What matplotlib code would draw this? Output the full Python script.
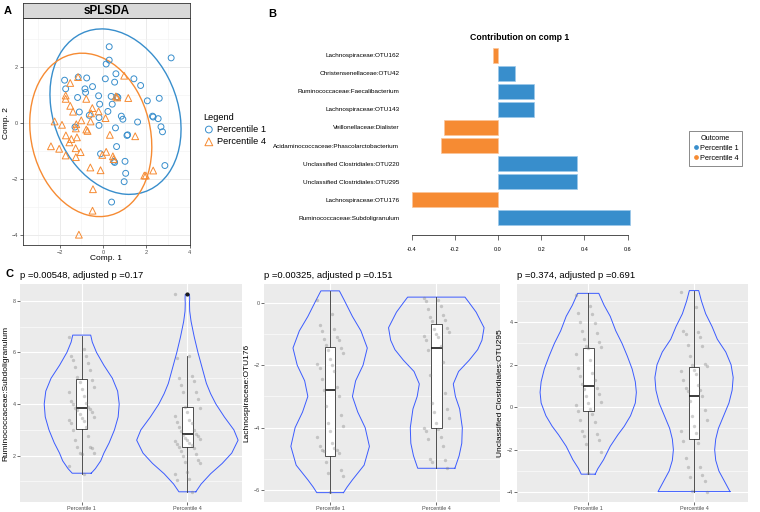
import numpy as np
import matplotlib
matplotlib.use("Agg")
import matplotlib.pyplot as plt
from matplotlib.patches import Ellipse
from matplotlib.lines import Line2D

plt.rcParams['font.family'] = ['Liberation Sans', 'DejaVu Sans']

BLUE = "#388ECC"
ORANGE = "#F68B33"
VIOLIN = "#3b5bff"

# ---- panel A: sPLSDA scores ----
p1_x = [0.29, 3.15, 0.29, 0.15, -1.77, -1.14, -0.75, 0.11, 0.60, 0.54, 1.43, 1.74,
        -1.72, -0.83, -0.48, -0.80, -1.17, -0.20, 0.38, 0.65, 0.69, 2.05, 2.60, -0.15,
        0.43, -1.09, 0.23, -0.63, -0.18, 0.85, 0.92, 2.29, 2.32, 2.55, 1.60, -1.29,
        -0.18, 0.58, 2.68, 2.75, 1.14, 1.11, 0.63, -0.11, 0.51, 1.02, 2.86, 1.05,
        0.98, 0.40, 0.54]
p1_y = [2.74, 2.34, 2.26, 2.12, 1.54, 1.65, 1.62, 1.59, 1.77, 1.47, 1.59, 1.35,
        1.23, 1.23, 1.31, 1.10, 0.92, 0.98, 0.96, 0.95, 0.92, 0.80, 0.89, 0.68,
        0.68, 0.40, 0.42, 0.28, 0.20, 0.25, 0.14, 0.25, 0.22, 0.16, 0.04, -0.14,
        -0.08, -0.17, -0.13, -0.31, -0.42, -0.44, -0.84, -1.10, -1.37, -1.37, -1.52, -1.80,
        -2.10, -2.83, -1.41]
p4_x = [0.98, -1.15, -1.51, -1.72, -1.72, -0.77, 0.60, 0.66, 1.17, -1.51, -1.38, -0.49,
        -0.55, -0.20, -2.23, -1.89, -1.23, -1.00, -0.57, 0.12, -0.77, -0.71, -1.25, -1.71,
        -1.20, -1.46, -1.55, 0.32, 1.49, -2.40, -2.02, -1.26, -1.72, -1.03, -1.25, 0.15,
        -0.03, 0.46, 0.49, -0.58, -0.11, 1.91, 1.98, 2.32, -0.46, -0.48, -1.11]
p4_y = [1.70, 1.65, 1.44, 0.99, 0.87, 0.87, 0.96, 0.92, 0.90, 0.62, 0.41, 0.54,
        0.35, 0.42, 0.06, -0.06, -0.04, 0.10, 0.06, 0.18, -0.23, -0.28, -0.19, -0.44,
        -0.51, -0.57, -0.69, -0.42, -0.47, -0.83, -0.92, -0.90, -1.16, -1.04, -1.22, -1.03,
        -1.14, -1.19, -1.29, -1.59, -1.69, -1.88, -1.88, -1.70, -2.37, -3.14, -4.00]

# ---- panel B: loadings on comp 1 (top to bottom) ----
otus = ["Lachnospiraceae:OTU162", "Christensenellaceae:OTU42",
        "Ruminococcaceae:Faecalibacterium", "Lachnospiraceae:OTU143",
        "Veillonellaceae:Dialister", "Acidaminococcaceae:Phascolarctobacterium",
        "Unclassified Clostridiales:OTU220", "Unclassified Clostridiales:OTU295",
        "Lachnospiraceae:OTU176", "Ruminococcaceae:Subdoligranulum"]
loadings = [-0.025, 0.079, 0.166, 0.166, -0.25, -0.265, 0.367, 0.367, -0.40, 0.61]
groups = ["Percentile 1", "Percentile 4"]

# ---- panel C: violins (outline levels / half widths), boxes and points ----
titles = ["p =0.00548, adjusted p =0.17", "p =0.00325, adjusted p =0.151",
          "p =0.374, adjusted p =0.691"]
ylabels = ["Ruminococcaceae:Subdoligranulum", "Lachnospiraceae:OTU176",
           "Unclassified Clostridiales:OTU295"]

v_lev = [
    [[1.32, 1.5, 1.8, 2.1, 2.5, 3.0, 3.5, 4.0, 4.5, 5.0, 5.5, 6.0, 6.4, 6.67],
     [0.6, 0.9, 1.3, 1.7, 2.1, 2.6, 3.0, 3.5, 4.0, 4.4, 4.8, 5.4, 6.0, 6.6, 7.2, 7.6, 7.9, 8.1, 8.25]],
    [[-6.08, -5.9, -5.67, -5.2, -4.6, -4.0, -3.5, -3.0, -2.5, -2.0, -1.45, -0.9, -0.44, 0.1, 0.38],
     [-5.3, -4.9, -4.5, -4.0, -3.4, -3.0, -2.6, -2.2, -1.84, -1.5, -1.2, -0.8, -0.3, 0.0, 0.18]],
    [[-3.15, -2.9, -2.47, -1.84, -1.3, -0.9, -0.4, 0.2, 0.7, 1.2, 1.8, 2.4, 3.0, 3.6, 4.28, 4.8, 5.36],
     [-3.97, -3.6, -3.0, -2.5, -2.0, -1.5, -1.0, -0.4, 0.2, 0.8, 1.4, 2.0, 2.6, 3.2, 3.8, 4.4, 5.0, 5.49]],
]
v_hw = [
    [[0.09, 0.13, 0.18, 0.21, 0.26, 0.31, 0.345, 0.355, 0.34, 0.29, 0.21, 0.14, 0.10, 0.085],
     [0.08, 0.13, 0.22, 0.33, 0.42, 0.48, 0.44, 0.35, 0.27, 0.22, 0.18, 0.14, 0.10, 0.065, 0.035, 0.022, 0.02, 0.022, 0.02]],
    [[0.126, 0.16, 0.21, 0.32, 0.37, 0.33, 0.26, 0.21, 0.24, 0.31, 0.35, 0.29, 0.21, 0.13, 0.087],
     [0.175, 0.215, 0.24, 0.245, 0.22, 0.18, 0.16, 0.21, 0.31, 0.39, 0.43, 0.45, 0.375, 0.31, 0.27]],
    [[0.066, 0.09, 0.145, 0.208, 0.28, 0.34, 0.40, 0.445, 0.455, 0.445, 0.415, 0.37, 0.32, 0.26, 0.208, 0.15, 0.10],
     [0.34, 0.30, 0.235, 0.205, 0.195, 0.205, 0.23, 0.28, 0.33, 0.36, 0.37, 0.35, 0.30, 0.22, 0.17, 0.11, 0.07, 0.044]],
]
# whisker low, q1, median, q3, whisker high
box_stats = [
    [[1.3, 3.02, 3.83, 4.97, 6.65], [0.6, 2.32, 2.84, 3.9, 5.87]],
    [[-6.08, -4.9, -2.80, -1.43, 0.38], [-5.3, -4.02, -1.46, -0.69, 0.18]],
    [[-3.15, -0.16, 1.0, 2.81, 5.36], [-3.97, -1.5, 0.55, 1.91, 5.49]],
]
outliers = [[[], [8.25]], [[], []], [[], []]]
points = [
    [[6.6, 6.15, 5.85, 5.85, 5.7, 5.6, 5.45, 5.3, 5.05, 4.95, 4.85, 4.65, 4.6, 4.45, 4.3,
      4.1, 4.05, 4.0, 3.9, 3.85, 3.8, 3.75, 3.7, 3.6, 3.5, 3.45, 3.4, 3.35, 3.25, 3.1,
      3.0, 2.75, 2.6, 2.35, 2.35, 2.3, 2.1, 2.1, 2.05, 1.6, 1.3],
     [8.25, 5.85, 5.8, 5.1, 5.0, 4.9, 4.75, 4.45, 4.45, 4.2, 3.9, 3.85, 3.7, 3.55, 3.4,
      3.3, 3.25, 3.1, 3.0, 2.95, 2.85, 2.8, 2.75, 2.7, 2.65, 2.6, 2.55, 2.5, 2.45, 2.4,
      2.35, 2.3, 2.2, 2.05, 2.0, 1.85, 1.75, 1.7, 1.35, 1.3, 1.1, 1.05, 0.6]],
    [[0.1, -0.35, -0.7, -0.85, -0.9, -1.1, -1.15, -1.2, -1.35, -1.45, -1.5, -1.6, -1.8,
      -1.95, -2.0, -2.1, -2.2, -2.45, -2.7, -2.8, -3.0, -3.3, -3.6, -3.85, -3.95, -4.1,
      -4.3, -4.5, -4.6, -4.65, -4.7, -4.7, -4.75, -4.8, -5.1, -5.35, -5.45, -5.55, -6.05],
     [0.15, 0.1, 0.05, -0.1, -0.2, -0.4, -0.45, -0.55, -0.6, -0.8, -0.85, -0.95, -1.0,
      -1.05, -1.1, -1.2, -1.4, -1.5, -1.9, -2.3, -2.9, -3.2, -3.4, -3.5, -3.7, -3.85,
      -4.0, -4.05, -4.1, -4.3, -4.35, -4.6, -5.0, -5.05, -5.1, -5.3]],
    [[5.3, 4.75, 4.45, 4.4, 4.0, 3.95, 3.6, 3.5, 3.2, 3.05, 2.9, 2.85, 2.8, 2.5, 2.2,
      1.85, 1.6, 1.45, 1.3, 1.1, 0.9, 0.85, 0.6, 0.55, 0.25, 0.2, 0.1, -0.1, -0.2, -0.3,
      -0.6, -0.7, -1.1, -1.25, -1.35, -1.55, -1.75, -2.1, -3.1],
     [5.4, 4.7, 3.6, 3.55, 3.45, 3.3, 2.95, 2.9, 2.4, 2.05, 2.0, 1.95, 1.75, 1.7, 1.55,
      1.3, 1.05, 0.9, 0.8, 0.75, 0.55, 0.3, -0.15, -0.4, -0.6, -0.9, -1.1, -1.2, -1.6,
      -1.7, -2.4, -2.8, -2.8, -3.2, -3.3, -3.45, -3.95, -4.0]],
]
c_ticks = [[2, 4, 6, 8], [-6, -4, -2, 0], [-4, -2, 0, 2, 4]]
c_minor = [[1, 3, 5, 7], [-5, -3, -1], [-3, -1, 1, 3, 5]]

# ---------------------------------------------------------------
W, H = 760, 512
fig = plt.figure(figsize=(7.6, 5.12), dpi=100)


def rect(x0, y0, x1, y1):
    return [x0 / W, 1 - y1 / H, (x1 - x0) / W, (y1 - y0) / H]


def ftext(x, y, s, **kw):
    fig.text(x / W, 1 - y / H, s, **kw)


# panel A
axA = fig.add_axes(rect(23, 18, 190, 245))
axA.set_xlim(-3.69, 4.02)
axA.set_ylim(-4.37, 3.77)
axA.set_xticks([-2, 0, 2, 4])
axA.set_yticks([-4, -2, 0, 2])
axA.set_xticks([-3, -1, 1, 3], minor=True)
axA.set_yticks([-3, -1, 1, 3], minor=True)
axA.grid(True, which='major', color='#EBEBEB', lw=0.7)
axA.grid(True, which='minor', color='#F2F2F2', lw=0.4)
axA.set_axisbelow(True)
for s in axA.spines.values():
    s.set_color('#333333')
    s.set_linewidth(0.6)
axA.tick_params(which='major', length=2, width=0.5, color='#333333',
                labelsize=4, labelcolor='#4D4D4D', pad=1.5)
axA.tick_params(which='minor', length=0)

# 95% confidence ellipses computed from the scores
t95 = np.sqrt(-2 * np.log(0.05))
for xs, ys, col in [(p1_x, p1_y, BLUE), (p4_x, p4_y, ORANGE)]:
    xy = np.column_stack([xs, ys])
    cov = np.cov(xy, rowvar=False)
    vals, vecs = np.linalg.eigh(cov)
    ang = np.degrees(np.arctan2(vecs[1, 1], vecs[0, 1]))
    axA.add_patch(Ellipse(xy.mean(axis=0), 2 * t95 * np.sqrt(vals[1]),
                          2 * t95 * np.sqrt(vals[0]), angle=ang,
                          fill=False, ec=col, lw=1.0))
hc = axA.scatter(p1_x, p1_y, s=18, facecolors='none', edgecolors=BLUE, linewidths=0.7)
ht = axA.scatter(p4_x, p4_y, s=24, marker='^', facecolors='none', edgecolors=ORANGE,
                 linewidths=0.7)

axS = fig.add_axes(rect(23, 3, 190, 18))
axS.set_facecolor('#D9D9D9')
axS.set_xticks([])
axS.set_yticks([])
for s in axS.spines.values():
    s.set_color('#333333')
    s.set_linewidth(0.6)
axS.text(0.5, 0.5, 'sPLSDA', ha='center', va='center', fontsize=8.5, fontweight='bold',
         transform=axS.transAxes)

ftext(8, 11, 'A', fontsize=8, fontweight='bold', ha='center', va='center')
ftext(106, 259, 'Comp. 1', fontsize=6, ha='center', va='center')
ftext(7, 123, 'Comp. 2', fontsize=6, ha='center', va='center', rotation=90)
fig.legend([hc, ht], groups, title='Legend', loc='upper left',
           bbox_to_anchor=(200 / W, 1 - 109 / H), frameon=False, fontsize=6.7,
           title_fontsize=6.7, handletextpad=0.3, borderaxespad=0, labelspacing=0.35,
           handlelength=1.1, alignment='left', markerscale=1.15)

# panel B
axB = fig.add_axes(rect(405, 45, 640, 235))
x0b = 498
axB.set_xlim((405 - x0b) / 216, (640 - x0b) / 216)
axB.set_ylim(-0.944, 9.556)
pos = np.arange(len(otus))[::-1]
cols = [BLUE if v > 0 else ORANGE for v in loadings]
edge = ["#9cc8ea" if v > 0 else "#fbc49a" for v in loadings]
axB.barh(pos, loadings, height=0.83, color=cols, edgecolor=edge, linewidth=0.5)
for k in ['top', 'right', 'left']:
    axB.spines[k].set_visible(False)
axB.spines['bottom'].set_bounds(-0.4, 0.6)
axB.spines['bottom'].set_color('#333333')
axB.spines['bottom'].set_linewidth(0.6)
axB.set_xticks([-0.4, -0.2, 0.0, 0.2, 0.4, 0.6])
axB.set_xticklabels(["-0.4", "-0.2", "0.0", "0.2", "0.4", "0.6"])
axB.tick_params(axis='x', length=3.5, width=0.5, color='#333333', labelsize=4, pad=5)
axB.set_yticks(pos)
axB.set_yticklabels(otus)
axB.tick_params(axis='y', length=0, labelsize=4.6, pad=4)
axB.set_facecolor('none')
ftext(272, 14, 'B', fontsize=8, fontweight='bold', ha='center', va='center')
ftext(520, 37, 'Contribution on comp 1', fontsize=6.3, fontweight='bold',
      ha='center', va='center')
hb = [Line2D([], [], ls='none', marker='o', ms=2.4, color=c) for c in (BLUE, ORANGE)]
lgB = fig.legend(hb, groups, title='Outcome', loc='upper left',
                 bbox_to_anchor=(689 / W, 1 - 131 / H), frameon=True, fontsize=5.3,
                 title_fontsize=5.2, handletextpad=0.1, borderpad=0.5,
                 labelspacing=0.4, handlelength=0.9, fancybox=False, borderaxespad=0)
lgB.get_frame().set_edgecolor('#555555')
lgB.get_frame().set_linewidth(0.6)

# panel C
c_rects = [(20, 284, 242, 502), (264, 284, 500, 502), (517, 284, 748, 502)]
c_xlim = [(0.416, 2.517), (0.377, 2.60), (0.327, 2.51)]
c_ylim = [(0.205, 8.65), (-6.38, 0.60), (-4.46, 5.80)]
for i in range(3):
    ax = fig.add_axes(rect(*c_rects[i]))
    ax.set_facecolor('#EBEBEB')
    ax.set_xlim(*c_xlim[i])
    ax.set_ylim(*c_ylim[i])
    ax.set_xticks([1, 2])
    ax.set_xticklabels(groups)
    ax.set_yticks(c_ticks[i])
    ax.set_yticks(c_minor[i], minor=True)
    ax.grid(True, which='major', color='white', lw=0.8)
    ax.grid(True, which='minor', axis='y', color='white', lw=0.4)
    ax.set_axisbelow(True)
    for s in ax.spines.values():
        s.set_visible(False)
    ax.tick_params(which='major', length=2, width=0.5, color='#333333',
                   labelsize=3.9, labelcolor='#4D4D4D', pad=1.2)
    ax.tick_params(which='minor', length=0)
    ax.set_ylabel(ylabels[i], fontsize=6, labelpad=2)
    ax.set_title(titles[i], loc='left', fontsize=6.8, pad=4)
    for g in range(2):
        c = g + 1
        lev = np.array(v_lev[i][g])
        hw = np.array(v_hw[i][g])
        vx = np.concatenate([c + hw, (c - hw)[::-1], [c + hw[0]]])
        vy = np.concatenate([lev, lev[::-1], [lev[0]]])
        ax.plot(vx, vy, color=VIOLIN, lw=0.7, zorder=2)
        lo, q1, med, q3, hi = box_stats[i][g]
        ax.bxp([dict(whislo=lo, q1=q1, med=med, q3=q3, whishi=hi,
                     fliers=outliers[i][g])], positions=[c], widths=0.1,
               patch_artist=True, showcaps=False, manage_ticks=False,
               boxprops=dict(facecolor='white', edgecolor='#333333', lw=0.6),
               whiskerprops=dict(color='#333333', lw=0.6),
               medianprops=dict(color='#1a1a1a', lw=1.2),
               flierprops=dict(marker='o', ms=2, mfc='#1a1a1a', mec='#1a1a1a'),
               zorder=3)
        ys = np.array(points[i][g])
        n = len(ys)
        jit = ((np.arange(n) * 7) % 13 / 12.0 - 0.5) * 0.24
        ax.scatter(c + jit, ys, s=6, color='#7a7a7a', alpha=0.35, lw=0, zorder=4)

ftext(10, 274, 'C', fontsize=8, fontweight='bold', ha='center', va='center')

fig.savefig("out.png", dpi=100)
